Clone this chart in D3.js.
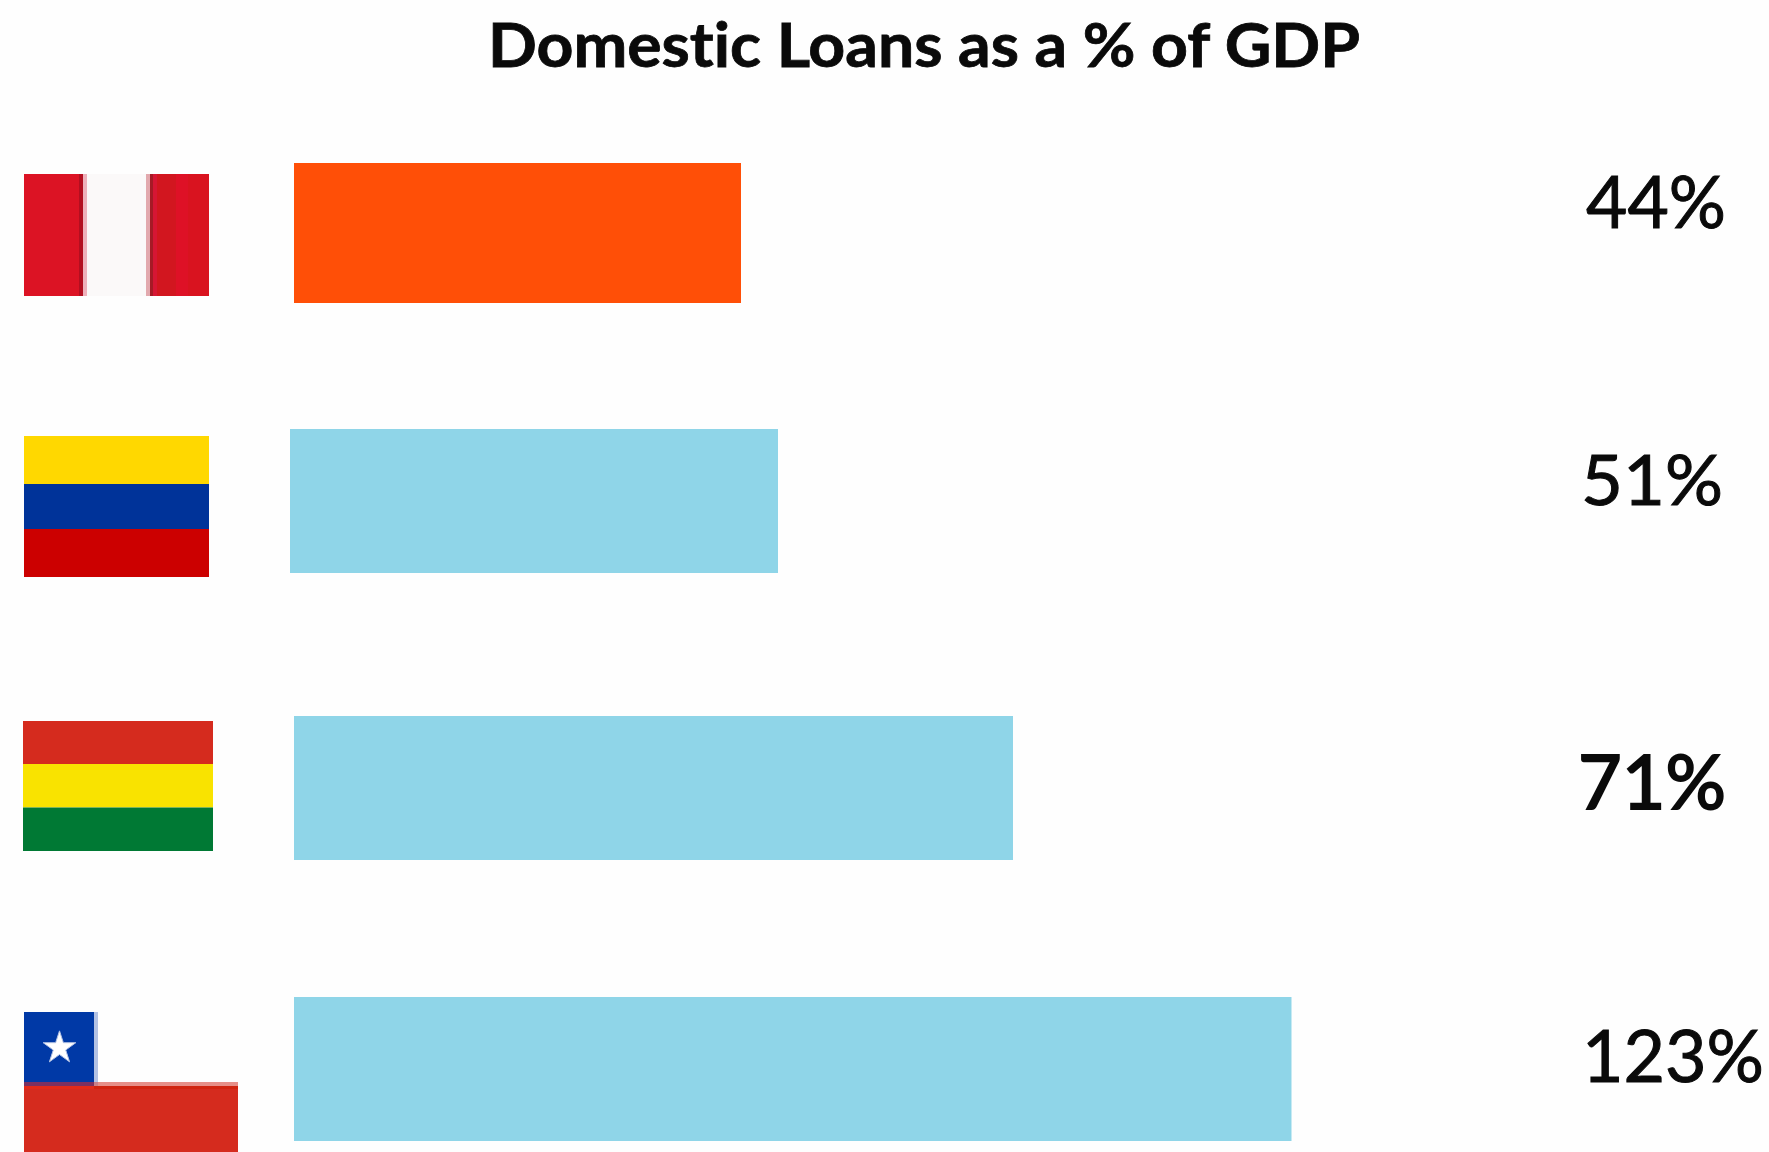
<!DOCTYPE html>
<html>
<head>
<meta charset="utf-8">
<script src="https://cdn.jsdelivr.net/npm/d3@7/dist/d3.min.js"></script>
<style>
  html, body { margin: 0; padding: 0; background: #fefefe; }
  svg { display: block; }
  text { font-family: Lato, "Open Sans", sans-serif; fill: #0a0a0a; stroke: #0a0a0a; font-variant-ligatures: none; }
</style>
</head>
<body>
<svg id="chart" width="1769" height="1152"></svg>
<script>
const chartTitle = "Domestic Loans as a % of GDP";
const countries = ["Peru", "Colombia", "Bolivia", "Chile"];
const loanShare = [44, 51, 71, 123];
const highlighted = ["Peru"];

const WIDTH = 1769, HEIGHT = 1152;
const svg = d3.select("#chart").attr("viewBox", [0, 0, WIDTH, HEIGHT]);

// The bars follow a hand-set, non-proportional length scale with one knot per value.
const length = d3.scaleLinear().domain([0, 44, 51, 71, 123]).range([0, 447, 488, 719, 997.5]);
const barLeft = d3.scaleOrdinal().domain(countries).range([294, 290, 294, 294]);
const barTop = d3.scaleOrdinal().domain(countries).range([163, 429, 716, 997]);
const barHeight = d3.scaleOrdinal().domain(countries).range([140, 144, 144, 144]);

const rows = countries.map((name, i) => ({ name, value: loanShare[i] }));

svg.append("g").selectAll("rect").data(rows).join("rect")
  .attr("x", d => barLeft(d.name))
  .attr("y", d => barTop(d.name))
  .attr("width", d => length(d.value))
  .attr("height", d => barHeight(d.name))
  .attr("fill", d => highlighted.includes(d.name) ? "#ff4f07" : "#8fd5e8");

// Value labels
const labelLeft = d3.scaleOrdinal().domain(countries).range([1586, 1581, 1578, 1582]);
const labelBase = d3.scaleOrdinal().domain(countries).range([228, 505, 809, 1082]);
const labelSize = d3.scaleOrdinal().domain(countries).range([71, 70, 75, 71]);
const labelFit = d3.scaleOrdinal().domain(countries).range([140, 142, 148, 182]);
const labelWeight = d3.scaleOrdinal().domain(countries).range([1, 1, 2, 1]);

svg.append("g").selectAll("text").data(rows).join("text")
  .attr("x", d => labelLeft(d.name))
  .attr("y", d => labelBase(d.name))
  .attr("font-size", d => labelSize(d.name))
  .attr("stroke-width", d => labelWeight(d.name))
  .attr("textLength", d => labelFit(d.name))
  .attr("lengthAdjust", "spacingAndGlyphs")
  .text(d => d.value + "%");

svg.append("text")
  .attr("x", 488)
  .attr("y", 67)
  .attr("font-size", 62)
  .attr("font-weight", 700)
  .attr("stroke-width", 0.8)
  .attr("textLength", 872)
  .attr("lengthAdjust", "spacingAndGlyphs")
  .text(chartTitle);

// Flags, painted as plain rectangles
function paint(parts) {
  svg.append("g").selectAll("rect").data(parts).join("rect")
    .attr("x", d => d[0]).attr("y", d => d[1])
    .attr("width", d => d[2]).attr("height", d => d[3])
    .attr("fill", d => d[4]);
}

// Peru
paint([
  [24, 174, 185, 122, "#dc1324"],
  [79, 174, 4, 122, "#b30f20"],
  [83, 174, 4, 122, "#eeb0ba"],
  [87, 174, 59, 122, "#fbf9f9"],
  [146, 174, 4, 122, "#e2a9ae"],
  [150, 174, 3, 122, "#a51a26"],
  [153, 174, 4, 122, "#d61634"],
  [157, 174, 19, 122, "#d2161f"],
  [176, 174, 12, 122, "#de1126"],
  [188, 174, 21, 122, "#d9131f"]
]);

// Colombia
paint([
  [24, 436, 185, 48, "#ffd800"],
  [24, 484, 185, 45, "#003399"],
  [24, 529, 185, 48, "#cc0000"]
]);

// Bolivia
paint([
  [23, 721, 190, 43, "#d52b1e"],
  [23, 764, 190, 43.5, "#f9e300"],
  [23, 807.5, 190, 43.5, "#007934"]
]);

// Chile
paint([
  [24, 1012, 70, 70, "#0039a6"],
  [94, 1012, 4, 70, "#b3c2e4"],
  [24, 1082, 70, 4, "#7b3060"],
  [94, 1082, 4, 4, "#c98088"],
  [98, 1082, 140, 4, "#e68f88"],
  [24, 1086, 214, 66, "#d52b1e"],
  [24, 1086, 70, 3, "#e22a18"],
  [94, 1086, 144, 3, "#d0240f"]
]);
svg.append("path")
  .attr("d", d3.symbol(d3.symbolStar, 330)())
  .attr("transform", "translate(59.5,1048)")
  .attr("fill", "#fff")
  .attr("stroke", "#b3c2e4")
  .attr("stroke-width", 1);
</script>
</body>
</html>
